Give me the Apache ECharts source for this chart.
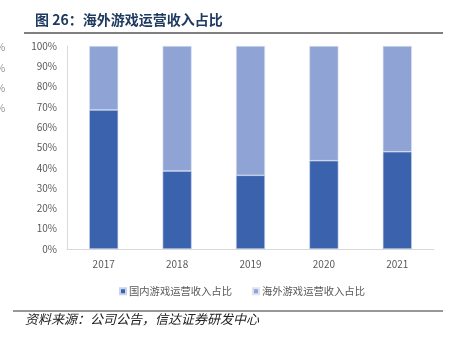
<!DOCTYPE html>
<html><head><meta charset="utf-8">
<script src="https://cdn.jsdelivr.net/npm/echarts@6/dist/echarts.min.js"></script>
<style>html,body{margin:0;padding:0;background:#fff}#c{width:455px;height:340px}</style>
</head><body><div id="c"></div>
<script>
const categories = ['2017', '2018', '2019', '2020', '2021'];
const domestic = [68.5, 38.4, 36.3, 43.5, 47.9];
const overseas = [31.5, 61.6, 63.7, 56.5, 52.1];
const seriesNames = ['国内游戏运营收入占比', '海外游戏运营收入占比'];
const yTicks = [0, 10, 20, 30, 40, 50, 60, 70, 80, 90, 100];

const chart = echarts.init(document.getElementById('c'), null, {renderer: 'canvas'});
const font = '"Noto Sans CJK SC", "Liberation Sans", sans-serif';
chart.setOption({
  animation: false,
  grid: {left: 67, right: 21, top: 46, bottom: 91},
  legend: {
    data: seriesNames,
    left: 114, top: 281,
    icon: 'rect', itemWidth: 6, itemHeight: 6, itemGap: 20,
    textStyle: {color: '#595959', fontSize: 10.3, fontFamily: font, padding: [0,0,0,-2]}
  },
  xAxis: {
    type: 'category', data: categories,
    axisLine: {lineStyle: {color: '#d9d9d9'}},
    axisTick: {show: false},
    axisLabel: {color: '#595959', fontSize: 10, fontFamily: font, margin: 10}
  },
  yAxis: {
    type: 'value', min: 0, max: 100, interval: 10,
    axisLine: {show: true, lineStyle: {color: '#d9d9d9'}},
    axisTick: {show: false},
    splitLine: {show: false},
    axisLabel: {color: '#595959', fontSize: 10, fontFamily: font, margin: 10, formatter: v => v + '%'}
  },
  series: [
    {name: seriesNames[0], type: 'bar', stack: 'a', barWidth: 29, data: domestic,
     itemStyle: {color: '#3a62ad', borderColor: '#c9d3ec', borderWidth: 0.6}},
    {name: seriesNames[1], type: 'bar', stack: 'a', barWidth: 29, data: overseas,
     itemStyle: {color: '#8fa3d4', borderColor: '#dbe2f2', borderWidth: 0.6}}
  ],
  graphic: [
    {type: 'text', left: 35, top: 13, style: {text: '图 26：海外游戏运营收入占比', font: 'bold 14px ' + font, fill: '#1f3a60'}},
    {type: 'line', shape: {x1: 24, y1: 33, x2: 443, y2: 33}, style: {stroke: '#7f7f7f', lineWidth: 2}},
    {type: 'line', shape: {x1: 13, y1: 311, x2: 443, y2: 311}, style: {stroke: '#333', lineWidth: 1}},
    {type: 'text', left: 25, top: 313, style: {text: '资料来源：公司公告，信达证券研发中心', font: 'italic 13px ' + font, fill: '#222'}},
    {type: 'text', x: -4, y: 42, style: {text: '%', font: '10px ' + font, fill: '#8c8c8c'}},
    {type: 'text', x: -4, y: 63, style: {text: '%', font: '10px ' + font, fill: '#8c8c8c'}},
    {type: 'text', x: -4, y: 83, style: {text: '%', font: '10px ' + font, fill: '#8c8c8c'}},
    {type: 'text', x: -4, y: 103, style: {text: '%', font: '10px ' + font, fill: '#8c8c8c'}}
  ]
});
</script></body></html>
